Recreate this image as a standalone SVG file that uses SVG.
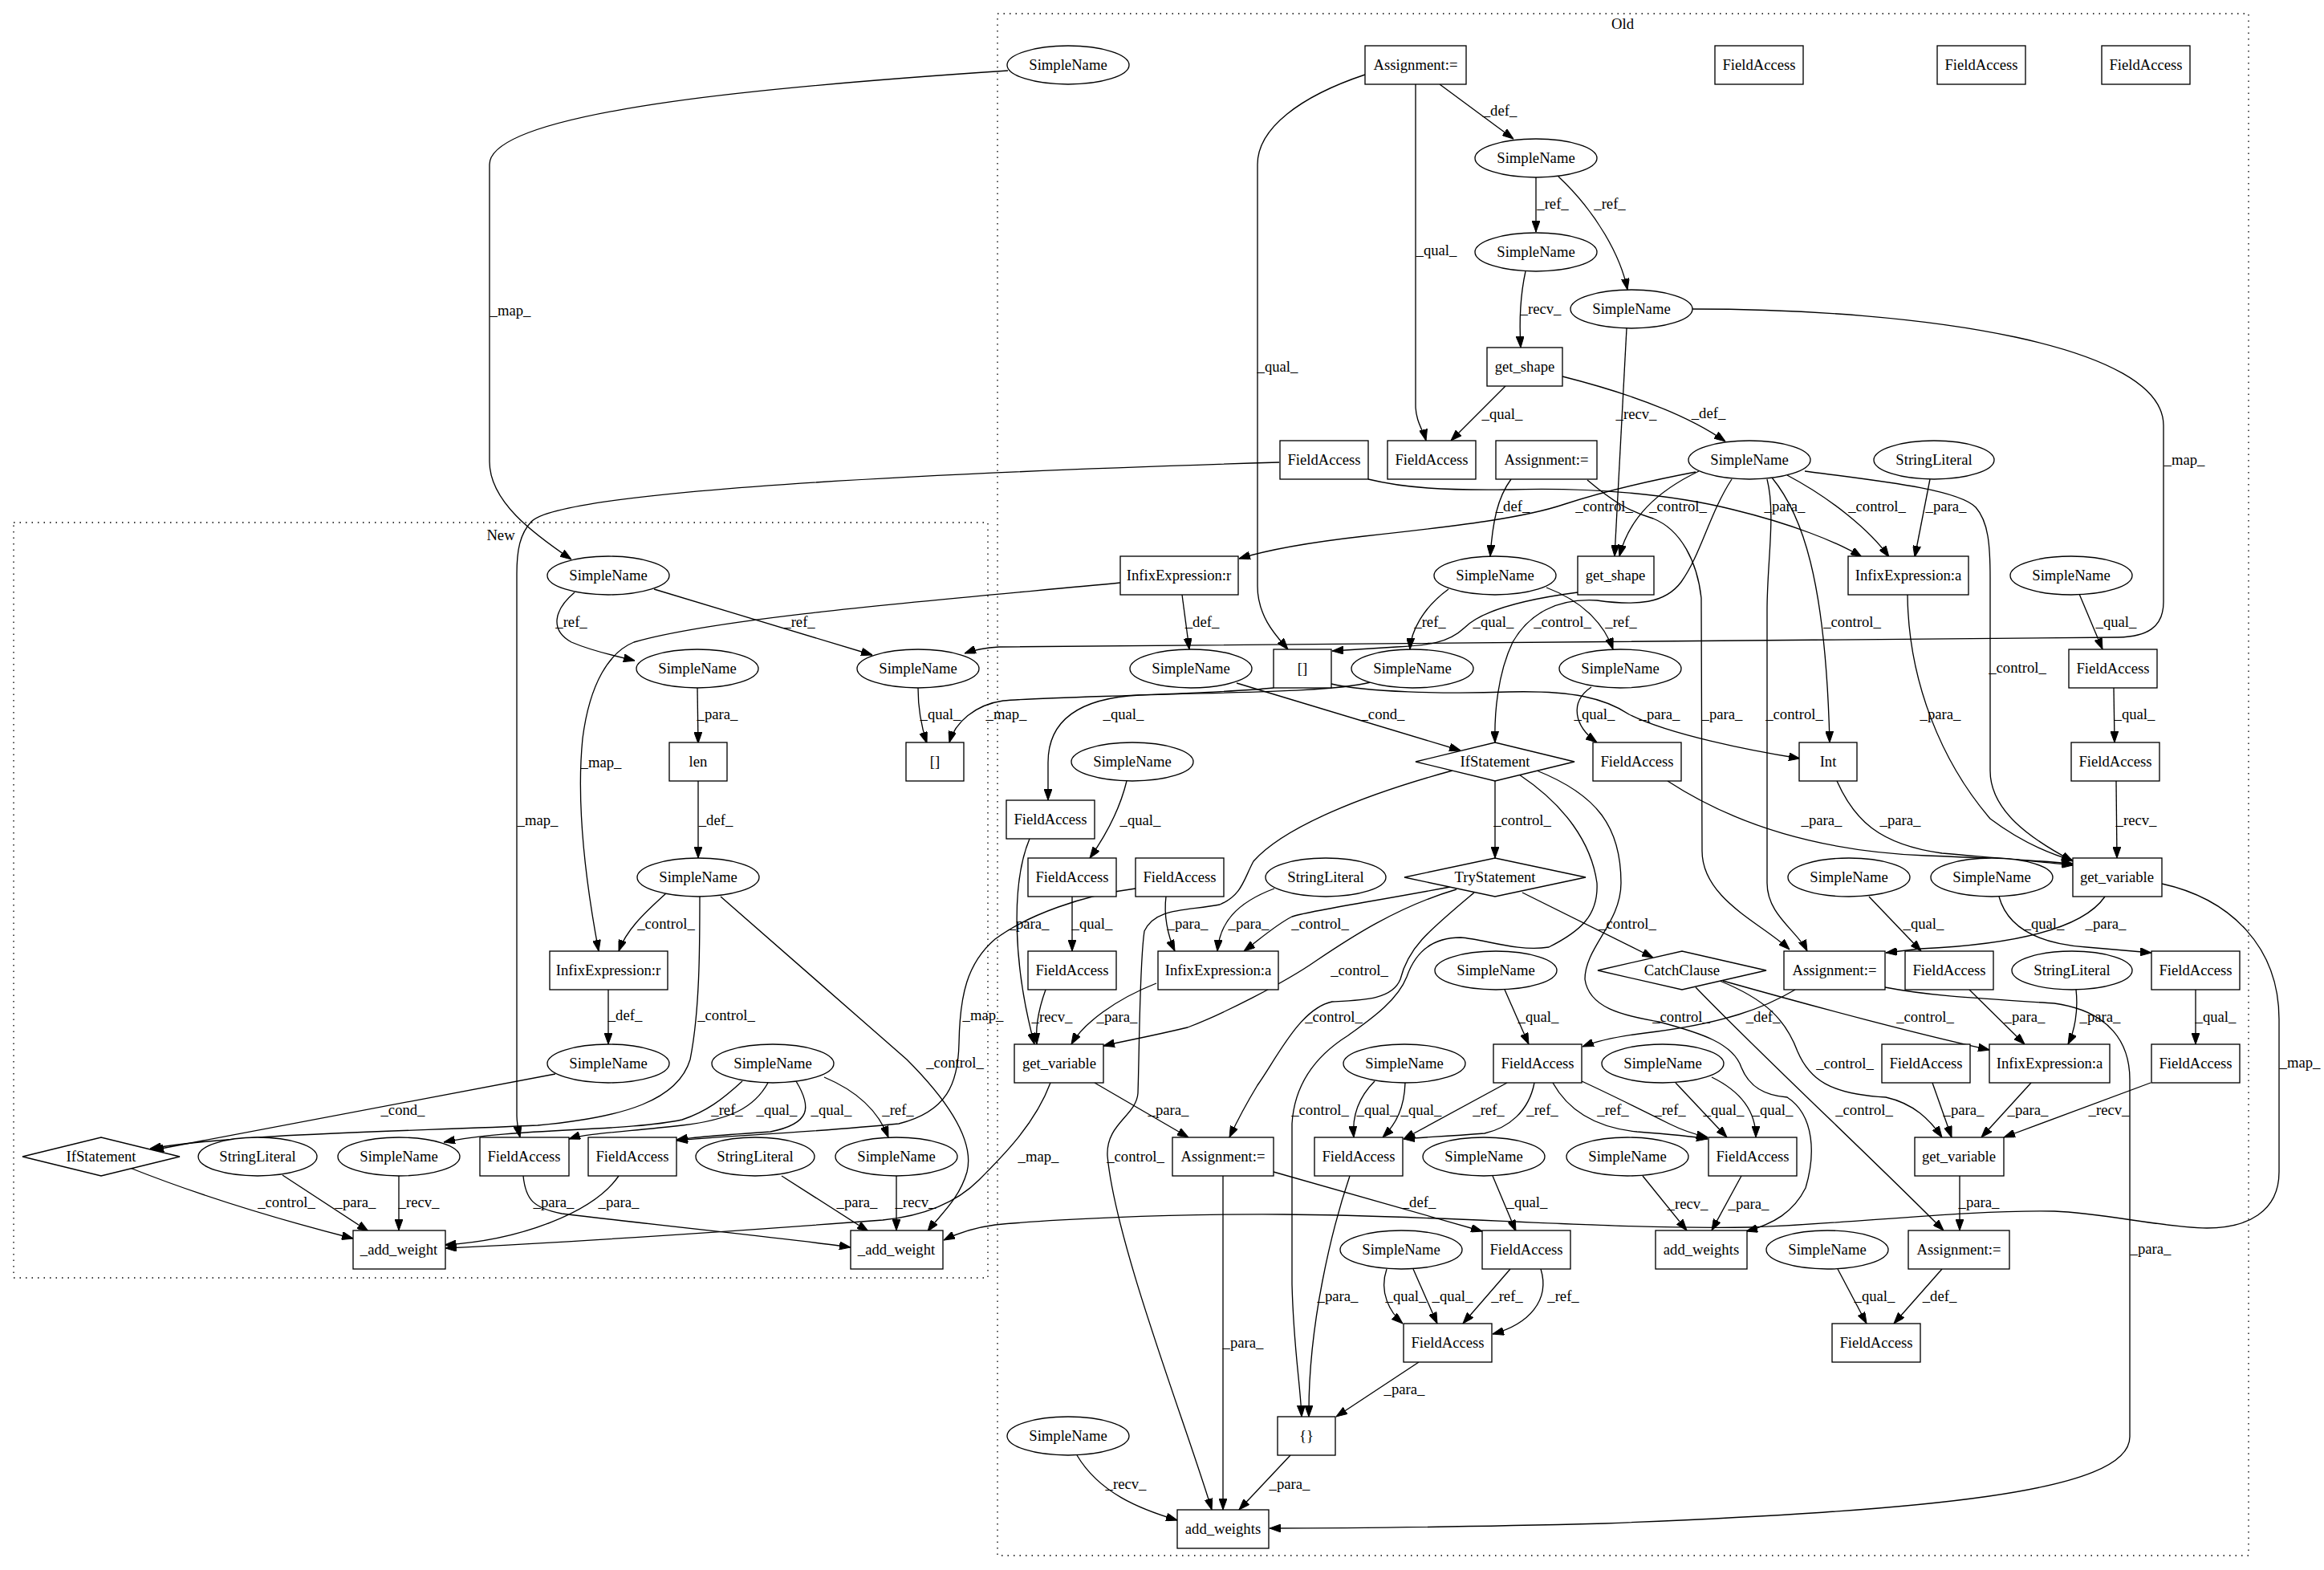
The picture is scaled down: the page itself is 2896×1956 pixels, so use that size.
<svg xmlns="http://www.w3.org/2000/svg" width="2896" height="1956" viewBox="0 0 2896 1956">
<style>
text{font-family:"Liberation Serif","Times New Roman",serif;font-size:18.67px;fill:#000}
.n text,.l{text-anchor:middle}
.n rect,.n ellipse,.n polygon{fill:#fff;stroke:#000;stroke-width:1.33}
.e path{fill:none;stroke:#000;stroke-width:1.33;marker-end:url(#a)}
.cl{fill:none;stroke:#000;stroke-width:1.33;stroke-dasharray:1.5,6}
</style>
<defs>
<marker id="a" markerUnits="userSpaceOnUse" markerWidth="14" markerHeight="10" refX="14" refY="5" orient="auto">
<path d="M0,0 L14,5 L0,10 z" fill="#000" stroke="#000" stroke-width="1"/>
</marker>
</defs>
<rect width="2896" height="1956" fill="#fff"/>
<g id="clusters">
<rect class="cl" x="1243" y="17" width="1559" height="1921"/>
<text x="2022" y="36" class="l">Old</text>
<rect class="cl" x="17" y="651" width="1214" height="941"/>
<text x="624" y="673" class="l">New</text>
</g>
<g id="edges" class="e">
<path d="M1256,88 C1000,105 610,135 610,205 L610,575 C610,625 665,665 712,697"/>
<path d="M1794,105 L1886,173"/>
<path d="M1764,105 L1764,505 C1764,525 1774,537 1777,549"/>
<path d="M1701,93 C1620,120 1567,160 1567,205 L1567,730 C1567,770 1593,795 1605,809"/>
<path d="M1914,221 L1914,289"/>
<path d="M1942,220 C1990,265 2020,320 2028,361"/>
<path d="M1901,338 C1894,370 1893,400 1895,433"/>
<path d="M1876,481 L1808,549"/>
<path d="M1947,469 C2030,490 2100,515 2150,550"/>
<path d="M2027,409 L2012,693"/>
<path d="M2109,385 C2400,385 2696,430 2696,530 L2696,750 C2696,782 2675,793 2640,794 L1245,806 C1228,807 1213,810 1202,814"/>
<path d="M1594,576 C1200,588 700,610 662,650 C648,665 644,685 644,715 L644,1390 C644,1400 646,1408 648,1417"/>
<path d="M1705,597 C1750,608 1800,611 1880,610 C1980,607 2080,615 2160,635 C2230,652 2290,675 2320,694"/>
<path d="M1883,597 C1866,620 1860,650 1857,693"/>
<path d="M1978,598 C2010,625 2030,637 2060,646 C2095,660 2115,700 2120,745 L2121,1060 C2121,1120 2195,1150 2230,1183"/>
<path d="M2113,588 C2050,600 1990,615 1950,628 C1900,645 1820,655 1700,668 C1620,677 1570,688 1544,696"/>
<path d="M2117,587 C2065,612 2030,645 2018,693"/>
<path d="M2227,592 C2280,620 2330,660 2354,694"/>
<path d="M2405,597 L2386,694"/>
<path d="M2158,597 C2130,640 2120,690 2095,725 C2075,752 2040,755 1990,748 C1940,745 1905,765 1885,800 C1866,840 1862,890 1863,925"/>
<path d="M2208,595 C2245,640 2275,720 2280,925"/>
<path d="M2202,597 C2213,640 2202,700 2202,760 L2202,1100 C2202,1140 2240,1160 2252,1185"/>
<path d="M2249,587 C2350,600 2440,610 2462,632 C2478,650 2480,680 2480,720 L2480,960 C2480,1010 2530,1045 2583,1073"/>
<path d="M1966,738 C1890,748 1845,762 1825,782 C1805,801 1780,804 1740,806 L1660,811"/>
<path d="M1805,734 C1772,758 1758,788 1757,809"/>
<path d="M1927,732 C1975,750 2000,780 2010,809"/>
<path d="M1396,726 C1200,745 900,768 790,800 C760,812 735,850 726,920 C718,1000 730,1100 746,1185"/>
<path d="M1473,741 L1482,809"/>
<path d="M1541,851 L1820,935"/>
<path d="M1659,852 C1700,862 1800,865 1880,862 C1960,860 2000,870 2030,890 C2080,915 2180,935 2243,945"/>
<path d="M1708,850 C1660,862 1550,862 1420,866 C1340,870 1306,900 1306,950 L1306,997"/>
<path d="M1587,857 C1500,866 1300,868 1250,873 C1215,878 1190,900 1183,925"/>
<path d="M1983,856 C1955,875 1962,905 1990,925"/>
<path d="M2591,740 L2620,809"/>
<path d="M2634,857 L2635,925"/>
<path d="M2078,973 C2150,1020 2250,1060 2400,1066 C2480,1069 2540,1072 2583,1076"/>
<path d="M2289,973 C2310,1020 2340,1052 2420,1063 C2500,1070 2550,1074 2583,1078"/>
<path d="M2377,741 C2378,850 2420,950 2480,1020 C2520,1050 2555,1064 2583,1072"/>
<path d="M2637,973 L2638,1069"/>
<path d="M2623,1117 C2590,1165 2480,1178 2393,1182 L2350,1187"/>
<path d="M2694,1101 C2780,1120 2840,1180 2840,1270 L2840,1460 C2840,1510 2800,1530 2750,1530 C2700,1530 2620,1511 2560,1509 C2450,1507 2300,1525 2180,1529 C2000,1532 1800,1514 1600,1513 C1450,1512 1300,1520 1240,1526 C1210,1530 1190,1538 1176,1545"/>
<path d="M2237,1233 C2200,1255 2150,1275 2050,1287 C2010,1292 1990,1297 1972,1304"/>
<path d="M2349,1230 C2400,1240 2450,1243 2560,1250 C2630,1260 2654,1300 2654,1345 L2654,1790 C2654,1860 2400,1882 2000,1898 C1800,1903 1650,1904 1582,1904"/>
<path d="M1807,1105 C1700,1125 1630,1135 1610,1142 C1590,1152 1570,1170 1550,1185"/>
<path d="M1588,1107 C1540,1125 1520,1150 1517,1185"/>
<path d="M1453,1117 C1450,1140 1455,1165 1464,1185"/>
<path d="M1815,1108 C1740,1130 1680,1170 1640,1197 C1600,1225 1520,1265 1480,1280 C1430,1292 1400,1297 1375,1303"/>
<path d="M1837,1112 C1780,1160 1755,1180 1745,1220 C1735,1245 1700,1246 1660,1248 C1620,1256 1590,1320 1567,1352 C1550,1380 1540,1400 1532,1417"/>
<path d="M1897,1112 L2060,1193"/>
<path d="M1863,973 L1863,1069"/>
<path d="M1810,960 C1700,990 1600,1030 1562,1073 C1550,1095 1548,1115 1520,1127 C1480,1135 1440,1130 1426,1160 C1420,1200 1420,1300 1418,1362 C1416,1390 1378,1400 1380,1440 C1390,1550 1480,1780 1510,1881"/>
<path d="M1893,965 C1950,1003 1983,1050 1990,1100 C1992,1140 1970,1160 1930,1180 C1890,1186 1850,1170 1820,1168 C1790,1168 1765,1182 1753,1217 C1740,1250 1700,1275 1680,1290 C1640,1315 1613,1350 1610,1400 L1610,1600 C1612,1680 1620,1720 1622,1765"/>
<path d="M1915,960 C1990,990 2020,1030 2020,1100 C2020,1150 1975,1180 1975,1220 C1980,1255 2020,1265 2067,1273 C2120,1287 2160,1300 2170,1330 C2180,1355 2200,1365 2227,1367 C2262,1390 2262,1440 2250,1480 C2235,1510 2210,1525 2176,1534"/>
<path d="M2147,1222 C2300,1265 2420,1295 2479,1308"/>
<path d="M2143,1222 C2200,1245 2225,1270 2240,1310 C2255,1345 2280,1363 2350,1367 C2385,1375 2405,1395 2420,1417"/>
<path d="M2113,1230 C2200,1320 2330,1440 2422,1533"/>
<path d="M1875,1233 L1905,1301"/>
<path d="M1283,1045 C1260,1100 1262,1200 1289,1301"/>
<path d="M1404,973 C1395,1010 1375,1045 1358,1069"/>
<path d="M1336,1117 L1336,1185"/>
<path d="M1303,1233 C1295,1255 1290,1280 1292,1301"/>
<path d="M1441,1225 C1390,1245 1350,1275 1335,1301"/>
<path d="M1364,1349 L1481,1417"/>
<path d="M1309,1349 C1290,1400 1250,1440 1220,1470 C1190,1500 1150,1515 1100,1520 C900,1535 700,1548 555,1555"/>
<path d="M1713,1347 C1690,1370 1685,1395 1687,1417"/>
<path d="M1751,1349 C1750,1380 1740,1400 1723,1417"/>
<path d="M1878,1349 L1749,1419"/>
<path d="M1912,1349 C1905,1385 1880,1405 1850,1412 C1800,1416 1770,1417 1749,1419"/>
<path d="M1935,1349 C1955,1385 1990,1405 2040,1410 C2080,1413 2110,1416 2128,1419"/>
<path d="M1971,1347 C2010,1365 2050,1385 2080,1400 C2100,1410 2115,1414 2128,1417"/>
<path d="M2088,1349 L2152,1417"/>
<path d="M2133,1342 C2170,1360 2188,1385 2188,1417"/>
<path d="M2408,1349 L2432,1417"/>
<path d="M2531,1349 L2469,1417"/>
<path d="M2680,1349 L2497,1417"/>
<path d="M1587,1460 L1847,1534"/>
<path d="M1524,1465 L1524,1881"/>
<path d="M1860,1465 L1889,1534"/>
<path d="M2047,1465 L2102,1533"/>
<path d="M2170,1465 L2133,1533"/>
<path d="M2442,1465 L2442,1533"/>
<path d="M1728,1581 C1718,1610 1732,1635 1748,1649"/>
<path d="M1761,1581 L1791,1649"/>
<path d="M1882,1581 L1823,1649"/>
<path d="M1920,1581 C1932,1620 1905,1650 1860,1662"/>
<path d="M1682,1465 C1660,1530 1630,1650 1631,1765"/>
<path d="M1768,1697 L1665,1765"/>
<path d="M1608,1813 L1544,1881"/>
<path d="M1342,1813 C1370,1860 1420,1880 1467,1894"/>
<path d="M2290,1581 L2326,1649"/>
<path d="M2420,1581 L2360,1649"/>
<path d="M2329,1117 L2394,1185"/>
<path d="M2491,1117 C2500,1150 2530,1175 2600,1180 L2681,1187"/>
<path d="M2454,1233 L2523,1301"/>
<path d="M2587,1233 C2590,1260 2585,1285 2577,1301"/>
<path d="M2736,1233 L2736,1301"/>
<path d="M1415,1107 C1350,1115 1280,1140 1240,1170 C1205,1200 1196,1240 1195,1300 C1194,1350 1180,1385 1120,1400 C1000,1412 900,1415 843,1421"/>
<path d="M716,738 C690,760 685,785 712,800 C740,812 770,818 791,823"/>
<path d="M815,734 L1087,816"/>
<path d="M869,857 L870,926"/>
<path d="M1144,857 C1144,880 1148,905 1155,926"/>
<path d="M870,973 L870,1069"/>
<path d="M830,1113 C800,1140 780,1160 771,1185"/>
<path d="M872,1117 C872,1180 872,1260 860,1320 C845,1370 780,1392 670,1402 C500,1410 300,1412 187,1431"/>
<path d="M898,1117 L1130,1320 C1180,1370 1215,1420 1205,1460 C1195,1495 1170,1515 1156,1534"/>
<path d="M758,1233 L758,1301"/>
<path d="M692,1338 L190,1433"/>
<path d="M925,1347 C900,1370 880,1385 850,1395 C780,1410 640,1405 553,1423"/>
<path d="M957,1349 C940,1380 910,1395 850,1402 C780,1410 730,1412 709,1419"/>
<path d="M992,1347 C1012,1380 1010,1400 960,1410 C900,1414 870,1416 843,1420"/>
<path d="M1027,1342 C1070,1360 1095,1385 1107,1417"/>
<path d="M162,1455 C250,1490 350,1520 440,1543"/>
<path d="M352,1464 L459,1534"/>
<path d="M497,1465 L497,1533"/>
<path d="M652,1465 C655,1495 665,1505 700,1512 C850,1530 1000,1545 1060,1554"/>
<path d="M771,1465 C740,1510 650,1545 554,1551"/>
<path d="M974,1465 L1082,1534"/>
<path d="M1117,1465 L1117,1533"/>
</g>
<g id="edge-labels" class="l">
<text x="636" y="393">_map_</text>
<text x="1869" y="144">_def_</text>
<text x="1790" y="318">_qual_</text>
<text x="1592" y="463">_qual_</text>
<text x="1935" y="260">_ref_</text>
<text x="2006" y="260">_ref_</text>
<text x="1920" y="391">_recv_</text>
<text x="1872" y="522">_qual_</text>
<text x="2129" y="521">_def_</text>
<text x="2039" y="522">_recv_</text>
<text x="2722" y="579">_map_</text>
<text x="670" y="1028">_map_</text>
<text x="2224" y="637">_para_</text>
<text x="1885" y="637">_def_</text>
<text x="2146" y="896">_para_</text>
<text x="1999" y="637">_control_</text>
<text x="2091" y="637">_control_</text>
<text x="2339" y="637">_control_</text>
<text x="2425" y="637">_para_</text>
<text x="1947" y="781">_control_</text>
<text x="2308" y="781">_control_</text>
<text x="2236" y="896">_control_</text>
<text x="2514" y="838">_control_</text>
<text x="1861" y="781">_qual_</text>
<text x="1782" y="781">_ref_</text>
<text x="2020" y="781">_ref_</text>
<text x="749" y="956">_map_</text>
<text x="1498" y="781">_def_</text>
<text x="1723" y="896">_cond_</text>
<text x="2068" y="896">_para_</text>
<text x="1400" y="896">_qual_</text>
<text x="1254" y="896">_map_</text>
<text x="1987" y="896">_qual_</text>
<text x="2637" y="781">_qual_</text>
<text x="2660" y="896">_qual_</text>
<text x="2270" y="1028">_para_</text>
<text x="2368" y="1028">_para_</text>
<text x="2418" y="896">_para_</text>
<text x="2662" y="1028">_recv_</text>
<text x="2624" y="1157">_para_</text>
<text x="2866" y="1330">_map_</text>
<text x="2197" y="1273">_def_</text>
<text x="2680" y="1562">_para_</text>
<text x="1645" y="1157">_control_</text>
<text x="1556" y="1157">_para_</text>
<text x="1480" y="1157">_para_</text>
<text x="1694" y="1215">_control_</text>
<text x="1662" y="1273">_control_</text>
<text x="2028" y="1157">_control_</text>
<text x="1897" y="1028">_control_</text>
<text x="1415" y="1447">_control_</text>
<text x="1645" y="1389">_control_</text>
<text x="2095" y="1273">_control_</text>
<text x="2399" y="1273">_control_</text>
<text x="2299" y="1331">_control_</text>
<text x="2323" y="1389">_control_</text>
<text x="1917" y="1273">_qual_</text>
<text x="1282" y="1157">_para_</text>
<text x="1421" y="1028">_qual_</text>
<text x="1361" y="1157">_qual_</text>
<text x="1311" y="1273">_recv_</text>
<text x="1392" y="1273">_para_</text>
<text x="1456" y="1389">_para_</text>
<text x="1294" y="1447">_map_</text>
<text x="1716" y="1389">_qual_</text>
<text x="1771" y="1389">_qual_</text>
<text x="1855" y="1389">_ref_</text>
<text x="1922" y="1389">_ref_</text>
<text x="2010" y="1389">_ref_</text>
<text x="2081" y="1389">_ref_</text>
<text x="2148" y="1389">_qual_</text>
<text x="2209" y="1389">_qual_</text>
<text x="2447" y="1389">_para_</text>
<text x="2527" y="1389">_para_</text>
<text x="2628" y="1389">_recv_</text>
<text x="1768" y="1504">_def_</text>
<text x="1549" y="1679">_para_</text>
<text x="1903" y="1504">_qual_</text>
<text x="2103" y="1506">_recv_</text>
<text x="2179" y="1506">_para_</text>
<text x="2466" y="1504">_para_</text>
<text x="1752" y="1621">_qual_</text>
<text x="1810" y="1621">_qual_</text>
<text x="1878" y="1621">_ref_</text>
<text x="1948" y="1621">_ref_</text>
<text x="1667" y="1621">_para_</text>
<text x="1750" y="1737">_para_</text>
<text x="1607" y="1855">_para_</text>
<text x="1403" y="1855">_recv_</text>
<text x="2336" y="1621">_qual_</text>
<text x="2417" y="1621">_def_</text>
<text x="2397" y="1157">_qual_</text>
<text x="2547" y="1157">_qual_</text>
<text x="2523" y="1273">_para_</text>
<text x="2617" y="1273">_para_</text>
<text x="2761" y="1273">_qual_</text>
<text x="1225" y="1271">_map_</text>
<text x="712" y="781">_ref_</text>
<text x="996" y="781">_ref_</text>
<text x="894" y="896">_para_</text>
<text x="1172" y="896">_qual_</text>
<text x="892" y="1028">_def_</text>
<text x="830" y="1157">_control_</text>
<text x="905" y="1271">_control_</text>
<text x="1190" y="1330">_control_</text>
<text x="779" y="1271">_def_</text>
<text x="502" y="1389">_cond_</text>
<text x="906" y="1389">_ref_</text>
<text x="968" y="1389">_qual_</text>
<text x="1036" y="1389">_qual_</text>
<text x="1119" y="1389">_ref_</text>
<text x="357" y="1504">_control_</text>
<text x="443" y="1504">_para_</text>
<text x="522" y="1504">_recv_</text>
<text x="690" y="1504">_para_</text>
<text x="771" y="1504">_para_</text>
<text x="1068" y="1504">_para_</text>
<text x="1141" y="1504">_recv_</text>
</g>
<g id="nodes" class="n">
<g id="o_sn_a0"><ellipse cx="1331" cy="81" rx="76" ry="24"/><text x="1331" y="87">SimpleName</text></g>
<g id="o_asg0"><rect x="1701" y="57" width="126" height="48"/><text x="1764" y="87">Assignment:=</text></g>
<g id="o_fa_t1"><rect x="2137" y="57" width="110" height="48"/><text x="2192" y="87">FieldAccess</text></g>
<g id="o_fa_t2"><rect x="2414" y="57" width="110" height="48"/><text x="2469" y="87">FieldAccess</text></g>
<g id="o_fa_t3"><rect x="2619" y="57" width="110" height="48"/><text x="2674" y="87">FieldAccess</text></g>
<g id="o_sn1"><ellipse cx="1914" cy="197" rx="76" ry="24"/><text x="1914" y="203">SimpleName</text></g>
<g id="o_sn2"><ellipse cx="1914" cy="314" rx="76" ry="24"/><text x="1914" y="320">SimpleName</text></g>
<g id="o_sn3"><ellipse cx="2033" cy="385" rx="76" ry="24"/><text x="2033" y="391">SimpleName</text></g>
<g id="o_getshape1"><rect x="1853" y="433" width="94" height="48"/><text x="1900" y="463">get_shape</text></g>
<g id="o_fa_l"><rect x="1595" y="549" width="110" height="48"/><text x="1650" y="579">FieldAccess</text></g>
<g id="o_fa_m"><rect x="1729" y="549" width="110" height="48"/><text x="1784" y="579">FieldAccess</text></g>
<g id="o_asg1"><rect x="1864" y="549" width="126" height="48"/><text x="1927" y="579">Assignment:=</text></g>
<g id="o_sn4"><ellipse cx="2180" cy="573" rx="76" ry="24"/><text x="2180" y="579">SimpleName</text></g>
<g id="o_sl1"><ellipse cx="2410" cy="573" rx="75" ry="24"/><text x="2410" y="579">StringLiteral</text></g>
<g id="o_infr"><rect x="1396" y="693" width="147" height="48"/><text x="1469" y="723">InfixExpression:r</text></g>
<g id="o_sn5"><ellipse cx="1863" cy="717" rx="76" ry="24"/><text x="1863" y="723">SimpleName</text></g>
<g id="o_getshape2"><rect x="1966" y="693" width="95" height="48"/><text x="2013" y="723">get_shape</text></g>
<g id="o_infa1"><rect x="2303" y="693" width="150" height="48"/><text x="2378" y="723">InfixExpression:a</text></g>
<g id="o_sn6"><ellipse cx="2581" cy="717" rx="76" ry="24"/><text x="2581" y="723">SimpleName</text></g>
<g id="o_sn7"><ellipse cx="1484" cy="833" rx="76" ry="24"/><text x="1484" y="839">SimpleName</text></g>
<g id="o_idx"><rect x="1587" y="809" width="72" height="48"/><text x="1623" y="839">[]</text></g>
<g id="o_sn8"><ellipse cx="1760" cy="833" rx="76" ry="24"/><text x="1760" y="839">SimpleName</text></g>
<g id="o_sn9"><ellipse cx="2019" cy="833" rx="76" ry="24"/><text x="2019" y="839">SimpleName</text></g>
<g id="o_fa_r1"><rect x="2578" y="809" width="110" height="48"/><text x="2633" y="839">FieldAccess</text></g>
<g id="o_sn10"><ellipse cx="1411" cy="949" rx="76" ry="24"/><text x="1411" y="955">SimpleName</text></g>
<g id="o_if"><polygon points="1764,949 1863,925 1962,949 1863,973"/><text x="1863" y="955">IfStatement</text></g>
<g id="o_fa_r2"><rect x="1985" y="925" width="110" height="48"/><text x="2040" y="955">FieldAccess</text></g>
<g id="o_int"><rect x="2242" y="925" width="72" height="48"/><text x="2278" y="955">Int</text></g>
<g id="o_fa_r3"><rect x="2581" y="925" width="110" height="48"/><text x="2636" y="955">FieldAccess</text></g>
<g id="o_fa_l2"><rect x="1254" y="997" width="110" height="48"/><text x="1309" y="1027">FieldAccess</text></g>
<g id="o_fa_c1"><rect x="1281" y="1069" width="110" height="48"/><text x="1336" y="1099">FieldAccess</text></g>
<g id="o_fa_c2"><rect x="1415" y="1069" width="110" height="48"/><text x="1470" y="1099">FieldAccess</text></g>
<g id="o_sl2"><ellipse cx="1652" cy="1093" rx="75" ry="24"/><text x="1652" y="1099">StringLiteral</text></g>
<g id="o_try"><polygon points="1750,1093 1863,1069 1976,1093 1863,1117"/><text x="1863" y="1099">TryStatement</text></g>
<g id="o_sn11"><ellipse cx="2304" cy="1093" rx="76" ry="24"/><text x="2304" y="1099">SimpleName</text></g>
<g id="o_sn12"><ellipse cx="2482" cy="1093" rx="76" ry="24"/><text x="2482" y="1099">SimpleName</text></g>
<g id="o_getvar1"><rect x="2583" y="1069" width="111" height="48"/><text x="2638" y="1099">get_variable</text></g>
<g id="o_fa_c3"><rect x="1281" y="1185" width="110" height="48"/><text x="1336" y="1215">FieldAccess</text></g>
<g id="o_infa2"><rect x="1443" y="1185" width="150" height="48"/><text x="1518" y="1215">InfixExpression:a</text></g>
<g id="o_sn13"><ellipse cx="1864" cy="1209" rx="76" ry="24"/><text x="1864" y="1215">SimpleName</text></g>
<g id="o_catch"><polygon points="1991,1209 2096,1185 2201,1209 2096,1233"/><text x="2096" y="1215">CatchClause</text></g>
<g id="o_asg2"><rect x="2223" y="1185" width="126" height="48"/><text x="2286" y="1215">Assignment:=</text></g>
<g id="o_fa_c4"><rect x="2374" y="1185" width="110" height="48"/><text x="2429" y="1215">FieldAccess</text></g>
<g id="o_sl3"><ellipse cx="2582" cy="1209" rx="75" ry="24"/><text x="2582" y="1215">StringLiteral</text></g>
<g id="o_fa_c5"><rect x="2681" y="1185" width="110" height="48"/><text x="2736" y="1215">FieldAccess</text></g>
<g id="o_getvar2"><rect x="1264" y="1301" width="111" height="48"/><text x="1320" y="1331">get_variable</text></g>
<g id="o_sn14"><ellipse cx="1750" cy="1325" rx="76" ry="24"/><text x="1750" y="1331">SimpleName</text></g>
<g id="o_fa_d1"><rect x="1861" y="1301" width="110" height="48"/><text x="1916" y="1331">FieldAccess</text></g>
<g id="o_sn15"><ellipse cx="2072" cy="1325" rx="76" ry="24"/><text x="2072" y="1331">SimpleName</text></g>
<g id="o_fa_d2"><rect x="2345" y="1301" width="110" height="48"/><text x="2400" y="1331">FieldAccess</text></g>
<g id="o_infa3"><rect x="2479" y="1301" width="150" height="48"/><text x="2554" y="1331">InfixExpression:a</text></g>
<g id="o_fa_d3"><rect x="2681" y="1301" width="110" height="48"/><text x="2736" y="1331">FieldAccess</text></g>
<g id="o_asg3"><rect x="1461" y="1417" width="126" height="48"/><text x="1524" y="1447">Assignment:=</text></g>
<g id="o_fa_e1"><rect x="1638" y="1417" width="110" height="48"/><text x="1693" y="1447">FieldAccess</text></g>
<g id="o_sn16"><ellipse cx="1849" cy="1441" rx="76" ry="24"/><text x="1849" y="1447">SimpleName</text></g>
<g id="o_sn17"><ellipse cx="2028" cy="1441" rx="76" ry="24"/><text x="2028" y="1447">SimpleName</text></g>
<g id="o_fa_e2"><rect x="2129" y="1417" width="110" height="48"/><text x="2184" y="1447">FieldAccess</text></g>
<g id="o_getvar3"><rect x="2386" y="1417" width="111" height="48"/><text x="2441" y="1447">get_variable</text></g>
<g id="o_sn18"><ellipse cx="1746" cy="1557" rx="76" ry="24"/><text x="1746" y="1563">SimpleName</text></g>
<g id="o_fa_f1"><rect x="1847" y="1533" width="110" height="48"/><text x="1902" y="1563">FieldAccess</text></g>
<g id="o_addw1"><rect x="2063" y="1533" width="114" height="48"/><text x="2120" y="1563">add_weights</text></g>
<g id="o_sn19"><ellipse cx="2277" cy="1557" rx="76" ry="24"/><text x="2277" y="1563">SimpleName</text></g>
<g id="o_asg4"><rect x="2378" y="1533" width="126" height="48"/><text x="2441" y="1563">Assignment:=</text></g>
<g id="o_fa_g1"><rect x="1749" y="1649" width="110" height="48"/><text x="1804" y="1679">FieldAccess</text></g>
<g id="o_fa_g2"><rect x="2283" y="1649" width="110" height="48"/><text x="2338" y="1679">FieldAccess</text></g>
<g id="o_sn20"><ellipse cx="1331" cy="1789" rx="76" ry="24"/><text x="1331" y="1795">SimpleName</text></g>
<g id="o_brace"><rect x="1592" y="1765" width="72" height="48"/><text x="1628" y="1795">{}</text></g>
<g id="o_addw2"><rect x="1467" y="1881" width="114" height="48"/><text x="1524" y="1911">add_weights</text></g>
<g id="n_sn1"><ellipse cx="758" cy="717" rx="76" ry="24"/><text x="758" y="723">SimpleName</text></g>
<g id="n_sn2"><ellipse cx="869" cy="833" rx="76" ry="24"/><text x="869" y="839">SimpleName</text></g>
<g id="n_sn3"><ellipse cx="1144" cy="833" rx="76" ry="24"/><text x="1144" y="839">SimpleName</text></g>
<g id="n_len"><rect x="834" y="925" width="72" height="48"/><text x="870" y="955">len</text></g>
<g id="n_idx"><rect x="1129" y="925" width="72" height="48"/><text x="1165" y="955">[]</text></g>
<g id="n_sn4"><ellipse cx="870" cy="1093" rx="76" ry="24"/><text x="870" y="1099">SimpleName</text></g>
<g id="n_infr"><rect x="685" y="1185" width="147" height="48"/><text x="758" y="1215">InfixExpression:r</text></g>
<g id="n_sn5"><ellipse cx="758" cy="1325" rx="76" ry="24"/><text x="758" y="1331">SimpleName</text></g>
<g id="n_sn6"><ellipse cx="963" cy="1325" rx="76" ry="24"/><text x="963" y="1331">SimpleName</text></g>
<g id="n_if"><polygon points="28,1441 126,1417 224,1441 126,1465"/><text x="126" y="1447">IfStatement</text></g>
<g id="n_sl1"><ellipse cx="321" cy="1441" rx="74" ry="24"/><text x="321" y="1447">StringLiteral</text></g>
<g id="n_sn7"><ellipse cx="497" cy="1441" rx="76" ry="24"/><text x="497" y="1447">SimpleName</text></g>
<g id="n_fa1"><rect x="598" y="1417" width="111" height="48"/><text x="653" y="1447">FieldAccess</text></g>
<g id="n_fa2"><rect x="733" y="1417" width="110" height="48"/><text x="788" y="1447">FieldAccess</text></g>
<g id="n_sl2"><ellipse cx="941" cy="1441" rx="74" ry="24"/><text x="941" y="1447">StringLiteral</text></g>
<g id="n_sn8"><ellipse cx="1117" cy="1441" rx="76" ry="24"/><text x="1117" y="1447">SimpleName</text></g>
<g id="n_addw1"><rect x="440" y="1533" width="115" height="48"/><text x="497" y="1563">_add_weight</text></g>
<g id="n_addw2"><rect x="1060" y="1533" width="115" height="48"/><text x="1117" y="1563">_add_weight</text></g>
</g>
</svg>
